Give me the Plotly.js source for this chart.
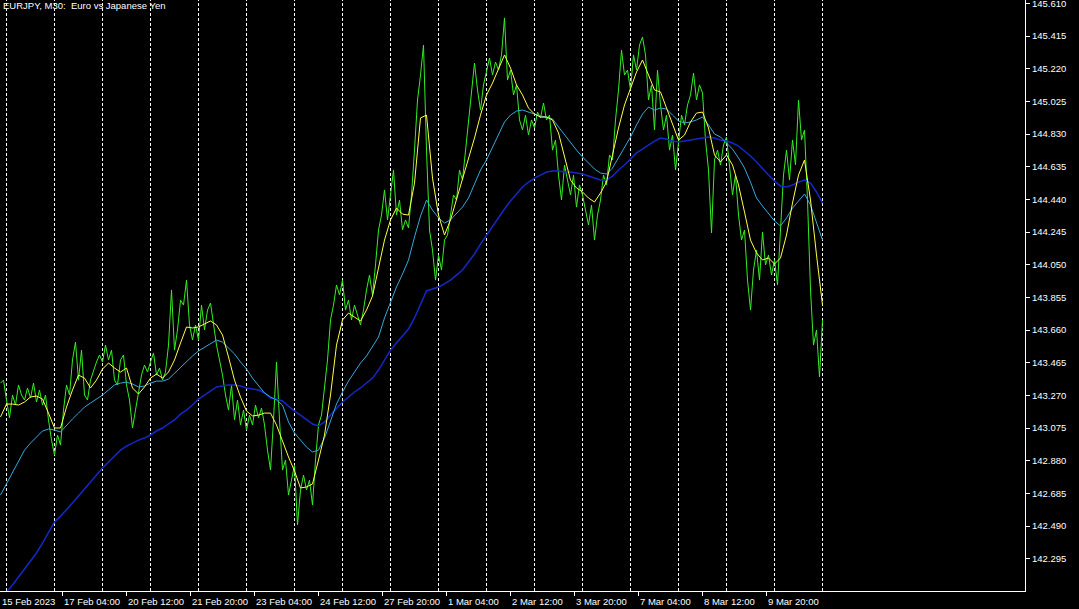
<!DOCTYPE html>
<html>
<head>
<meta charset="utf-8">
<script src="https://cdn.plot.ly/plotly-3.0.1.min.js"></script>
<style>
  html, body { margin: 0; padding: 0; background: #000; overflow: hidden; }
  #chart { width: 1079px; height: 609px; }
</style>
</head>
<body>
<div id="chart"></div>
<script>
// ---------------- DATA ----------------
// EURJPY M30 close prices, one value every 3 bars, starting at the first visible bar (15 Feb 2023 21:00)
const GREEN_STEP = 3;
const closePrices = [
  143.343, 143.361, 143.242, 143.135, 143.272, 143.212, 143.332, 143.272, 143.242, 143.314,
  143.254, 143.343, 143.230, 143.302, 143.212, 143.272, 143.123, 143.003, 142.914, 143.033,
  142.973, 143.182, 143.332, 143.272, 143.481, 143.588, 143.361, 143.540, 143.272, 143.242,
  143.361, 143.421, 143.469, 143.511, 143.469, 143.570, 143.481, 143.540, 143.361, 143.332,
  143.481, 143.511, 143.332, 143.242, 143.075, 143.182, 143.290, 143.391, 143.451, 143.409,
  143.469, 143.523, 143.391, 143.433, 143.361, 143.409, 143.570, 143.899, 143.540, 143.660,
  143.839, 143.809, 143.958, 143.690, 143.600, 143.690, 143.600, 143.809, 143.660, 143.779,
  143.821, 143.690, 143.570, 143.481, 143.391, 143.272, 143.182, 143.332, 143.123, 143.242,
  143.093, 143.182, 143.063, 143.152, 143.093, 143.212, 143.135, 143.194, 143.093, 142.943,
  142.824, 143.123, 143.469, 143.123, 142.824, 142.884, 142.675, 142.764, 142.854, 142.496,
  142.705, 142.794, 142.705, 142.764, 142.615, 142.884, 143.093, 143.152, 143.302, 143.481,
  143.720, 143.809, 143.929, 143.869, 143.958, 143.779, 143.839, 143.720, 143.809, 143.749,
  143.690, 143.779, 143.899, 143.988, 143.869, 144.048, 144.257, 144.346, 144.496, 144.317,
  144.466, 144.615, 144.346, 144.436, 144.257, 144.317, 144.269, 144.466, 144.734, 145.033,
  145.182, 145.361, 144.734, 144.257, 144.137, 143.958, 144.108, 144.018, 144.197, 144.227,
  144.346, 144.466, 144.436, 144.615, 144.555, 144.734, 144.914, 145.063, 145.254, 145.093,
  144.973, 145.123, 145.212, 145.284, 145.182, 145.260, 145.212, 145.302, 145.523, 145.152,
  145.212, 145.063, 145.123, 144.914, 144.854, 144.943, 144.824, 144.914, 144.866, 144.961,
  144.926, 145.015, 144.914, 144.943, 144.734, 144.794, 144.585, 144.436, 144.645, 144.555,
  144.466, 144.585, 144.394, 144.526, 144.466, 144.376, 144.287, 144.406, 144.197, 144.346,
  144.436, 144.585, 144.526, 144.705, 144.675, 144.914, 145.093, 145.331, 145.182, 145.212,
  145.093, 145.302, 145.212, 145.361, 145.409, 145.302, 145.033, 145.123, 144.854, 145.212,
  145.003, 144.854, 144.943, 144.734, 144.824, 144.615, 144.794, 144.943, 144.884, 145.003,
  145.063, 145.194, 145.033, 145.123, 145.075, 144.794, 144.615, 144.239, 144.675, 144.734,
  144.645, 144.764, 144.812, 144.645, 144.466, 144.585, 144.346, 144.197, 144.257, 143.958,
  143.779, 144.018, 144.137, 143.958, 144.245, 144.048, 144.108, 143.988, 144.078, 143.929,
  144.257, 144.585, 144.734, 144.555, 144.794, 144.645, 145.033, 144.794, 144.854, 144.436,
  143.899, 143.570, 143.660, 143.379, 143.720
];

// Moving averages, one value every 6 bars
const MA_STEP = 6;
const maFast = [
  143.141, 143.218, 143.218, 143.212, 143.230, 143.260, 143.266, 143.248, 143.164, 143.075,
  143.075, 143.200, 143.302, 143.391, 143.373, 143.314, 143.361, 143.427, 143.463, 143.433,
  143.409, 143.433, 143.314, 143.278, 143.320, 143.373, 143.397, 143.373, 143.409, 143.481,
  143.582, 143.678, 143.672, 143.678, 143.696, 143.714, 143.690, 143.630, 143.499, 143.361,
  143.260, 143.176, 143.147, 143.152, 143.164, 143.164, 143.093, 142.991, 142.902, 142.818,
  142.717, 142.723, 142.741, 142.884, 143.033, 143.272, 143.570, 143.720, 143.761, 143.737,
  143.714, 143.779, 143.863, 144.030, 144.197, 144.317, 144.388, 144.352, 144.346, 144.537,
  144.926, 144.943, 144.567, 144.346, 144.227, 144.317, 144.436, 144.555, 144.675, 144.806,
  144.943, 145.063, 145.134, 145.224, 145.302, 145.224, 145.123, 145.063, 144.985, 144.949,
  144.931, 144.931, 144.914, 144.836, 144.687, 144.555, 144.508, 144.484, 144.448, 144.424,
  144.478, 144.543, 144.705, 144.866, 145.003, 145.105, 145.200, 145.272, 145.182, 145.093,
  145.081, 144.985, 144.884, 144.794, 144.824, 144.902, 144.955, 144.961, 144.866, 144.705,
  144.663, 144.705, 144.645, 144.526, 144.364, 144.197, 144.120, 144.078, 144.090, 144.054,
  144.090, 144.227, 144.418, 144.585, 144.675, 144.436, 144.108, 143.809
];
const maMid = [
  142.675, 142.741, 142.812, 142.878, 142.943, 142.985, 143.021, 143.057, 143.069, 143.063,
  143.051, 143.093, 143.129, 143.164, 143.200, 143.224, 143.248, 143.272, 143.302, 143.332,
  143.343, 143.349, 143.338, 143.320, 143.326, 143.343, 143.355, 143.355, 143.367, 143.403,
  143.439, 143.475, 143.505, 143.535, 143.558, 143.582, 143.600, 143.588, 143.552, 143.517,
  143.469, 143.427, 143.373, 143.326, 143.284, 143.260, 143.242, 143.212, 143.111, 143.045,
  143.003, 142.961, 142.932, 142.943, 143.015, 143.117, 143.218, 143.290, 143.355, 143.409,
  143.463, 143.505, 143.558, 143.618, 143.732, 143.827, 143.917, 143.994, 144.078, 144.215,
  144.340, 144.436, 144.376, 144.329, 144.299, 144.317, 144.358, 144.394, 144.448, 144.537,
  144.615, 144.675, 144.752, 144.830, 144.902, 144.943, 144.967, 144.973, 144.961, 144.949,
  144.937, 144.932, 144.920, 144.872, 144.824, 144.782, 144.734, 144.693, 144.657, 144.621,
  144.597, 144.591, 144.627, 144.687, 144.746, 144.812, 144.884, 144.949, 144.991, 144.973,
  144.985, 144.979, 144.943, 144.908, 144.896, 144.902, 144.914, 144.932, 144.884, 144.830,
  144.812, 144.776, 144.740, 144.687, 144.627, 144.543, 144.448, 144.400, 144.352, 144.311,
  144.281, 144.329, 144.388, 144.430, 144.472, 144.406, 144.305, 144.197
];
const maSlow = [
  142.042, 142.096, 142.138, 142.185, 142.233, 142.281, 142.329, 142.388, 142.448, 142.514,
  142.549, 142.585, 142.627, 142.669, 142.711, 142.752, 142.794, 142.836, 142.872, 142.908,
  142.943, 142.967, 142.985, 143.003, 143.015, 143.033, 143.057, 143.075, 143.099, 143.123,
  143.158, 143.182, 143.212, 143.248, 143.272, 143.296, 143.320, 143.326, 143.332, 143.332,
  143.326, 143.314, 143.308, 143.302, 143.284, 143.254, 143.248, 143.236, 143.206, 143.176,
  143.152, 143.123, 143.099, 143.087, 143.111, 143.152, 143.194, 143.230, 143.260, 143.290,
  143.314, 143.343, 143.373, 143.421, 143.481, 143.540, 143.582, 143.624, 143.666, 143.732,
  143.809, 143.893, 143.905, 143.917, 143.935, 143.958, 143.988, 144.018, 144.066, 144.114,
  144.173, 144.227, 144.281, 144.329, 144.382, 144.430, 144.472, 144.514, 144.543, 144.567,
  144.585, 144.603, 144.609, 144.609, 144.603, 144.603, 144.597, 144.591, 144.579, 144.567,
  144.555, 144.555, 144.579, 144.615, 144.645, 144.681, 144.717, 144.740, 144.764, 144.788,
  144.806, 144.800, 144.788, 144.782, 144.788, 144.794, 144.800, 144.806, 144.812, 144.806,
  144.794, 144.788, 144.776, 144.758, 144.729, 144.699, 144.663, 144.621, 144.585, 144.549,
  144.520, 144.514, 144.526, 144.543, 144.555, 144.537, 144.484, 144.418
];

// Time axis labels
const START_TIME = '2023-02-15 21:00';
const timeLabelTimes = ['2023-02-15 21:00', '2023-02-17 04:00', '2023-02-20 12:00', '2023-02-21 20:00',
  '2023-02-23 04:00', '2023-02-24 12:00', '2023-02-27 20:00', '2023-03-01 04:00', '2023-03-02 12:00',
  '2023-03-03 20:00', '2023-03-07 04:00', '2023-03-08 12:00', '2023-03-09 20:00'];
const timeLabelTexts = ['15 Feb 2023', '17 Feb 04:00', '20 Feb 12:00', '21 Feb 20:00', '23 Feb 04:00',
  '24 Feb 12:00', '27 Feb 20:00', '1 Mar 04:00', '2 Mar 12:00', '3 Mar 20:00', '7 Mar 04:00',
  '8 Mar 12:00', '9 Mar 20:00'];
const gridFirstDay = '2023-02-16 00:00';
const gridLastDay = '2023-03-13 00:00';

// Price axis labels
const priceLabels = ['142.295', '142.490', '142.685', '142.880', '143.075', '143.270', '143.465',
  '143.660', '143.855', '144.050', '144.245', '144.440', '144.635', '144.830', '145.025',
  '145.220', '145.415', '145.610'];
const priceRange = [142.102, 145.630];

const chartTitle = 'EURJPY, M30:  Euro vs Japanese Yen';

// ---------------- HELPERS ----------------
function parseT(s) {
  const [d, t] = s.split(' ');
  const [Y, M, D] = d.split('-').map(Number);
  const [h, m] = t.split(':').map(Number);
  return Date.UTC(Y, M - 1, D, h, m);
}
const HALF_HOUR = 30 * 60000;
// number of M30 trading bars (weekends excluded) from START_TIME
function barIndex(s) {
  const t0 = parseT(START_TIME), t = parseT(s);
  let n = 0;
  for (let u = t0; u < t; u += HALF_HOUR) {
    const wd = new Date(u).getUTCDay();
    if (wd !== 0 && wd !== 6) n++;
  }
  return n;
}
const idx = (arr, step) => arr.map((_, i) => i * step);

// grid lines at each trading-day midnight
const gridBars = [];
for (let u = parseT(gridFirstDay); u <= parseT(gridLastDay); u += 24 * 3600000) {
  const wd = new Date(u).getUTCDay();
  if (wd === 0 || wd === 6) continue;
  const dt = new Date(u);
  const s = dt.getUTCFullYear() + '-' + String(dt.getUTCMonth() + 1).padStart(2, '0') + '-' +
            String(dt.getUTCDate()).padStart(2, '0') + ' 00:00';
  gridBars.push(barIndex(s));
}
const labelBars = timeLabelTimes.map(barIndex);

// ---------------- PLOT ----------------
const traces = [
  { x: idx(closePrices, GREEN_STEP), y: closePrices, type: 'scatter', mode: 'lines',
    line: { color: '#33ee22', width: 1 }, hoverinfo: 'skip' },
  { x: idx(maSlow, MA_STEP), y: maSlow, type: 'scatter', mode: 'lines',
    line: { color: '#1428c8', width: 1.5 }, hoverinfo: 'skip' },
  { x: idx(maMid, MA_STEP), y: maMid, type: 'scatter', mode: 'lines',
    line: { color: '#33aadd', width: 1 }, hoverinfo: 'skip' },
  { x: idx(maFast, MA_STEP), y: maFast, type: 'scatter', mode: 'lines',
    line: { color: '#ffff44', width: 1 }, hoverinfo: 'skip' }
];

const FONT_FAMILY = 'Liberation Sans, Arial, sans-serif';
const tickFont = { family: FONT_FAMILY, size: 9.5, color: '#ffffff' };

const shapes = gridBars.map(b => ({
  type: 'line', xref: 'x', yref: 'paper', x0: b, x1: b, y0: 0, y1: 1,
  line: { color: '#ffffff', width: 1, dash: '3px,2px' }, layer: 'below'
}));

const annotations = [{
  text: chartTitle, xref: 'paper', yref: 'paper', x: 0, y: 1,
  xanchor: 'left', yanchor: 'top', showarrow: false, xshift: 1, yshift: 2,
  font: { family: FONT_FAMILY, size: 9.5, color: '#ffffff' }
}];
labelBars.forEach((b, i) => {
  annotations.push({
    text: timeLabelTexts[i], xref: 'x', yref: 'paper', x: b, y: 0,
    xanchor: 'left', yanchor: 'top', showarrow: false, xshift: -1, yshift: -3,
    font: tickFont
  });
});

const layout = {
  width: 1079, height: 609,
  margin: { l: 0, r: 54, t: 0, b: 18, pad: 0 },
  paper_bgcolor: '#000000', plot_bgcolor: '#000000',
  showlegend: false,
  hovermode: false,
  xaxis: {
    type: 'linear', range: [-0.5, 1024.5],
    showgrid: false, zeroline: false,
    showline: true, linecolor: '#ffffff', linewidth: 1,
    ticks: 'outside', ticklen: 4, tickcolor: '#ffffff', tickwidth: 1,
    tickmode: 'array', tickvals: labelBars.slice(1),
    showticklabels: false, fixedrange: true
  },
  yaxis: {
    side: 'right', range: priceRange,
    showgrid: false, zeroline: false,
    showline: true, linecolor: '#ffffff', linewidth: 1,
    ticks: 'outside', ticklen: 4, tickcolor: '#ffffff', tickwidth: 1,
    tickmode: 'array',
    tickvals: priceLabels.map(Number), ticktext: priceLabels,
    ticklabeloverflow: 'allow',
    tickfont: tickFont, fixedrange: true
  },
  shapes: shapes,
  annotations: annotations
};

Plotly.newPlot('chart', traces, layout, { staticPlot: true, displayModeBar: false });
</script>
</body>
</html>
